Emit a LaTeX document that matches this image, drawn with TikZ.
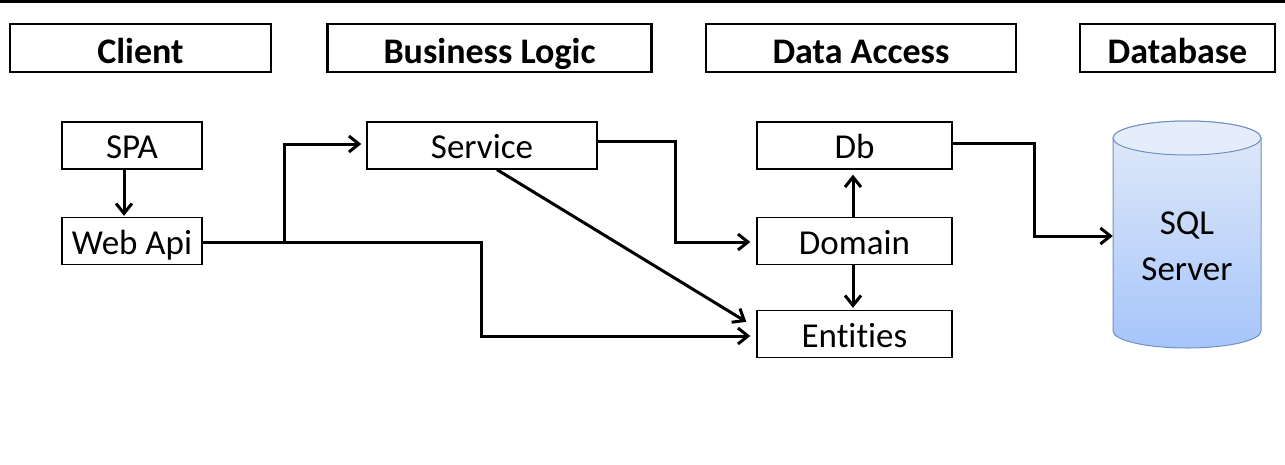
\documentclass[tikz,border=0pt]{standalone}
\usepackage{fontspec}
\setmainfont{Carlito}[Ligatures=NoCommon]
\usetikzlibrary{arrows.meta,calc}
\definecolor{cyltop}{HTML}{E2EAF9}
\definecolor{cylbot}{HTML}{A6C5FA}
\definecolor{cylborder}{HTML}{7090C4}
\begin{document}
\begin{tikzpicture}[x=1pt,y=-1pt,
  hdr/.style={draw,line width=2.7pt,minimum height=48pt,inner sep=0pt,
    font=\bfseries\fontsize{36}{40}\selectfont,text height=30pt,text depth=0pt},
  box/.style={draw,line width=1.3pt,inner sep=0pt,minimum height=47pt,
    font=\fontsize{35}{40}\selectfont,text height=26pt,text depth=0pt},
  arr/.style={line width=3pt,-{Straight Barb[length=10pt,width=16pt]}},
  link/.style={line width=3pt},
]
\useasboundingbox (0,0) rectangle (1285,464);
\fill (0,0) rectangle (1285,2.5);

% headers
\node[hdr,minimum width=261pt] (hclient) at (140.5,48) {Client};
\node[hdr,minimum width=324pt] (hbl) at (489.5,48) {Business Logic};
\node[hdr,minimum width=310pt] (hda) at (861,48) {Data Access};
\node[hdr,minimum width=195pt] (hdb) at (1177.5,48) {Database};

% boxes
\node[box,minimum width=140pt] (spa) at (132,145.5) {SPA};
\node[box,minimum width=140pt] (webapi) at (132,241) {Web Api};
\node[box,minimum width=230pt] (service) at (482,145.5) {Service};
\node[box,minimum width=195pt] (db) at (854.5,145.5) {Db};
\node[box,minimum width=195pt] (domain) at (854.5,241) {Domain};
\node[box,minimum width=195pt] (entities) at (854.5,334) {Entities};

% cylinder
\shade[top color=cyltop,bottom color=cylbot,draw=cylborder,line width=1pt]
  (1113,138) -- (1113,331) arc[start angle=180,end angle=360,x radius=74pt,y radius=17pt]
  -- (1261,138) arc[start angle=0,end angle=180,x radius=74pt,y radius=17pt] -- cycle;
\draw[cylborder,line width=1pt,fill=cyltop!85!white] (1187,138) ellipse[x radius=74pt,y radius=17pt];
\node[align=center,inner sep=0pt,minimum width=148pt,
  font=\fontsize{35}{46}\selectfont] (sql) at (1187,246) {SQL\\Server};

% junctions
\coordinate (j1) at (284,242);
\coordinate (j2) at (481,242);
\coordinate (j3) at (675,242);
\coordinate (j4) at (1034,236);

% connectors
\draw[arr,shorten >=1pt] ([xshift=-8pt]spa.south) -- ([xshift=-8pt]webapi.north);
\draw[link] ([yshift=-1pt]webapi.east) -- (j1);
\draw[arr,shorten >=5pt] (j1) |- ([yshift=1.5pt]service.west);
\draw[arr,shorten >=6pt] (j1) -- (j2) |- ([yshift=-2pt]entities.west);
\draw[arr] ([xshift=15pt]service.south) -- ([xshift=-10pt,yshift=-12pt]entities.north west);
\draw[arr,shorten >=6pt] ([yshift=4pt]service.east) -| (j3) -- ([yshift=-1pt]domain.west);
\draw[arr,shorten >=5pt] ([xshift=-1.5pt]domain.north) -- ([xshift=-1.5pt]db.south);
\draw[arr,shorten >=2pt] ([xshift=-1.5pt]domain.south) -- ([xshift=-1.5pt]entities.north);
\draw[arr] ([yshift=2.5pt]db.east) -| (j4) -- (j4 -| sql.west);
\end{tikzpicture}
\end{document}
